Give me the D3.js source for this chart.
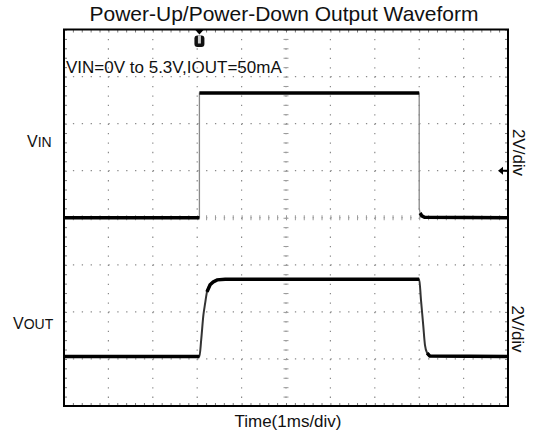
<!DOCTYPE html>
<html>
<head>
<meta charset="utf-8">
<script src="https://cdn.jsdelivr.net/npm/d3@7"></script>
<style>
  body { margin: 0; background: #fff; }
  text { font-family: "Liberation Sans", Arial, sans-serif; fill: #111; }
</style>
</head>
<body>
<div id="container"></div>
<script>
/* CONSTANTS AND GLOBALS */
const width = 535
const height = 440
const margin = { top: 29.5, bottom: 34, left: 64, right: 27 }

/* DATA */
// time in ms (1ms/div), volts (2V/div)
const vinTime  = [0, 3.05, 3.05, 8.0, 8.0, 8.02, 8.06, 8.12, 10]
const vinVolts = [0, 0, 5.3, 5.3, 0.4, 0.2, 0.08, 0.02, 0]

const voutTime  = [0, 3.05, 3.09, 3.14, 3.18, 3.22, 3.29, 3.36, 3.45, 3.63, 8.0, 8.04, 8.09, 8.13, 8.18, 8.24, 10]
const voutVolts = [0, 0, 0.71, 1.77, 2.28, 2.75, 3.05, 3.17, 3.26, 3.29, 3.29, 2.41, 1.35, 0.49, 0.15, 0.02, 0]

// scope settings
const vinOffset = 0       // channel position, volts on screen
const voutOffset = -5.9
const triggerTime = 3.05
const triggerLevel = 2.0

const gridTimes = [1, 2, 3, 4, 6, 7, 8, 9]
const gridVolts = [-6, -4, -2, 2, 4, 6]
const minorTimes = d3.range(0, 10.001, 0.2)
const minorVolts = d3.range(-8, 8.001, 0.4)

/* SCALES */
const xScale = d3.scaleLinear()
  .domain([0, 10])
  .range([margin.left, width - margin.right])

const yScale = d3.scaleLinear()
  .domain([-8, 8])
  .range([height - margin.bottom, margin.top])

const minorX = xScale(0.2) - xScale(0)
const minorY = yScale(0) - yScale(0.4)

/* SVG */
const svg = d3.select("#container")
  .append("svg")
  .attr("width", width)
  .attr("height", height)

// dotted grid
svg.selectAll(".vgrid")
  .data(gridTimes.concat([5]))
  .join("line")
    .attr("x1", d => xScale(d)).attr("x2", d => xScale(d))
    .attr("y1", margin.top).attr("y2", height - margin.bottom)
    .attr("stroke", "#8a8a8a")
    .attr("stroke-width", 1.2)
    .attr("stroke-dasharray", `1.3 ${minorY - 1.3}`)

svg.selectAll(".hgrid")
  .data(gridVolts.concat([0]))
  .join("line")
    .attr("y1", d => yScale(d)).attr("y2", d => yScale(d))
    .attr("x1", margin.left).attr("x2", width - margin.right)
    .attr("stroke", "#8a8a8a")
    .attr("stroke-width", 1.2)
    .attr("stroke-dasharray", `1.3 ${minorX - 1.3}`)

// minor ticks: centre cross and inside of the frame
function tickAxis(axis, size, tx, ty, color) {
  const g = svg.append("g")
    .attr("transform", `translate(${tx}, ${ty})`)
    .call(axis.tickSize(size).tickFormat(""))
  g.select(".domain").remove()
  g.selectAll("line").attr("stroke", color)
  return g
}
tickAxis(d3.axisBottom(xScale).tickValues(minorTimes), 5, 0, yScale(0) - 2.5, "#9a9a9a")
tickAxis(d3.axisRight(yScale).tickValues(minorVolts), 5, xScale(5) - 2.5, 0, "#9a9a9a")
tickAxis(d3.axisBottom(xScale).tickValues(minorTimes), 3, 0, margin.top, "#777")
tickAxis(d3.axisTop(xScale).tickValues(minorTimes), 3, 0, height - margin.bottom, "#777")
tickAxis(d3.axisRight(yScale).tickValues(minorVolts), 3, margin.left, 0, "#777")
tickAxis(d3.axisLeft(yScale).tickValues(minorVolts), 3, width - margin.right, 0, "#777")

// frame
svg.append("rect")
  .attr("x", margin.left)
  .attr("y", margin.top)
  .attr("width", width - margin.left - margin.right)
  .attr("height", height - margin.top - margin.bottom)
  .attr("fill", "none")
  .attr("stroke", "#000")
  .attr("stroke-width", 2)

/* TRACES */
const vinPts = vinTime.map((t, i) => ({ t: t, v: vinVolts[i] + vinOffset }))
const voutPts = voutTime.map((t, i) => ({ t: t, v: voutVolts[i] + voutOffset }))

const line = d3.line()
  .x(d => xScale(d.t))
  .y(d => yScale(d.v))

// fast edges are faint on the scope, flat parts are thick
function flatRuns(pts) {
  const runs = []
  let cur = null
  d3.pairs(pts).forEach(([a, b]) => {
    const dx = Math.abs(xScale(b.t) - xScale(a.t))
    const dy = Math.abs(yScale(b.v) - yScale(a.v))
    if (dy <= dx * 2.5) {
      if (!cur) { cur = [a]; runs.push(cur) }
      cur.push(b)
    } else cur = null
  })
  return runs
}

svg.append("path")
  .attr("d", line(vinPts))
  .attr("fill", "none").attr("stroke", "#888").attr("stroke-width", 1.3)

svg.append("path")
  .attr("d", line.curve(d3.curveMonotoneX)(voutPts))
  .attr("fill", "none").attr("stroke", "#333").attr("stroke-width", 2)
line.curve(d3.curveLinear)

svg.selectAll(".flat")
  .data(flatRuns(vinPts).concat(flatRuns(voutPts)))
  .join("path")
    .attr("d", d => line(d))
    .attr("fill", "none")
    .attr("stroke", "#000")
    .attr("stroke-width", 3.5)

/* MARKERS */
const tx = xScale(triggerTime)
svg.append("path")
  .attr("d", `M${tx - 4.5},${margin.top} L${tx + 4.5},${margin.top} L${tx},${margin.top + 5} Z`)
  .attr("fill", "#000")
svg.append("rect")
  .attr("x", tx - 5).attr("y", 35.5).attr("width", 10).attr("height", 11.5).attr("rx", 3)
  .attr("fill", "#111")
svg.append("rect")
  .attr("x", tx - 1.5).attr("y", 35.5).attr("width", 3).attr("height", 8)
  .attr("fill", "#ccc")

const ty = yScale(triggerLevel)
const rx = width - margin.right
svg.append("path")
  .attr("d", `M${rx - 10},${ty} L${rx - 5},${ty - 4} L${rx - 5},${ty + 4} Z M${rx - 5},${ty - 1} L${rx},${ty - 1} L${rx},${ty + 1} L${rx - 5},${ty + 1} Z`)
  .attr("fill", "#000")

/* TEXT */
svg.append("text")
  .attr("x", 284).attr("y", 21)
  .attr("text-anchor", "middle")
  .style("font-size", "21px")
  .text("Power-Up/Power-Down Output Waveform")

svg.append("text")
  .attr("x", 66).attr("y", 72.5)
  .style("font-size", "17px")
  .text("VIN=0V to 5.3V,IOUT=50mA")

const vinLabel = svg.append("text").attr("x", 27).attr("y", 146.5)
vinLabel.append("tspan").style("font-size", "16px").text("V")
vinLabel.append("tspan").style("font-size", "14px").text("IN")

const voutLabel = svg.append("text").attr("x", 13).attr("y", 328.5)
voutLabel.append("tspan").style("font-size", "16px").text("V")
voutLabel.append("tspan").style("font-size", "14px").text("OUT")

svg.selectAll(".scaleLabel")
  .data([{ x: 512.5, y: 152.5 }, { x: 511.5, y: 329 }])
  .join("text")
    .attr("transform", d => `translate(${d.x}, ${d.y}) rotate(90)`)
    .attr("text-anchor", "middle")
    .style("font-size", "17px")
    .text("2V/div")

svg.append("text")
  .attr("x", 288).attr("y", 427)
  .attr("text-anchor", "middle")
  .style("font-size", "17px")
  .text("Time(1ms/div)")
</script>
</body>
</html>
